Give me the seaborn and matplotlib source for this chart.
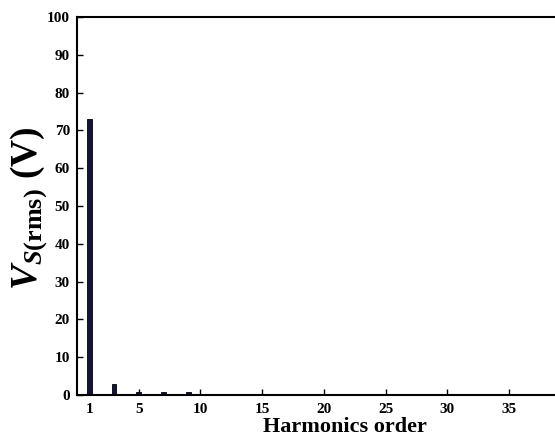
import matplotlib
matplotlib.use("Agg")
import matplotlib.pyplot as plt
import seaborn as sns
import pandas as pd

orders = [1, 2, 3, 5, 7, 9, 11, 15, 17]
vrms = [73.0, 0.35, 2.8, 0.9, 0.9, 0.9, 0.35, 0.35, 0.35]
xticks = [1, 5, 10, 15, 20, 25, 30, 35]
yticks = [0, 10, 20, 30, 40, 50, 60, 70, 80, 90, 100]

sns.set_style("white", {"text.color": "black", "axes.labelcolor": "black",
                        "xtick.color": "black", "ytick.color": "black",
                        "axes.edgecolor": "black"})
plt.rcParams['font.family'] = ['Liberation Serif', 'DejaVu Serif']
plt.rcParams['mathtext.fontset'] = 'custom'
plt.rcParams['mathtext.it'] = 'Liberation Serif:italic:bold'
plt.rcParams['mathtext.bf'] = 'Liberation Serif:bold'
plt.rcParams['mathtext.rm'] = 'Liberation Serif:bold'

df = pd.DataFrame({"order": orders, "v": vrms})

fig = plt.figure(figsize=(5.55, 4.36), dpi=100)
ax = fig.add_axes([0.1387, 0.094, 0.890, 0.867])
sns.barplot(data=df, x="order", y="v", native_scale=True, width=0.4,
            color="#14143c", edgecolor="black", linewidth=0.6, saturation=1,
            ax=ax)
ax.set_xlim(0, 40)
ax.set_ylim(0, 100)
ax.set_xticks(xticks)
ax.set_yticks(yticks)
ax.set_xticklabels([str(t) for t in xticks], fontweight="bold", fontsize=11)
ax.set_yticklabels([str(t) for t in yticks], fontweight="bold", fontsize=11)
ax.tick_params(axis="x", direction="in", length=4, width=1, pad=6, bottom=True,
               colors="black")
ax.tick_params(axis="y", direction="in", length=4, width=1, pad=5, left=True,
               colors="black")
for s in ax.spines.values():
    s.set_linewidth(1.5)
    s.set_color("black")
ax.set_xlabel("Harmonics order", fontsize=16, fontweight="bold", color="black")
ax.xaxis.set_label_coords(0.543, -0.058)
ax.set_ylabel(r"$\mathit{V}_{\mathit{S}\mathrm{(rms)}}$ (V)", fontsize=27,
              fontweight="bold", color="black")
ax.yaxis.set_label_coords(-0.056, 0.495)
ax.grid(False)
fig.savefig("out.png", dpi=100)
